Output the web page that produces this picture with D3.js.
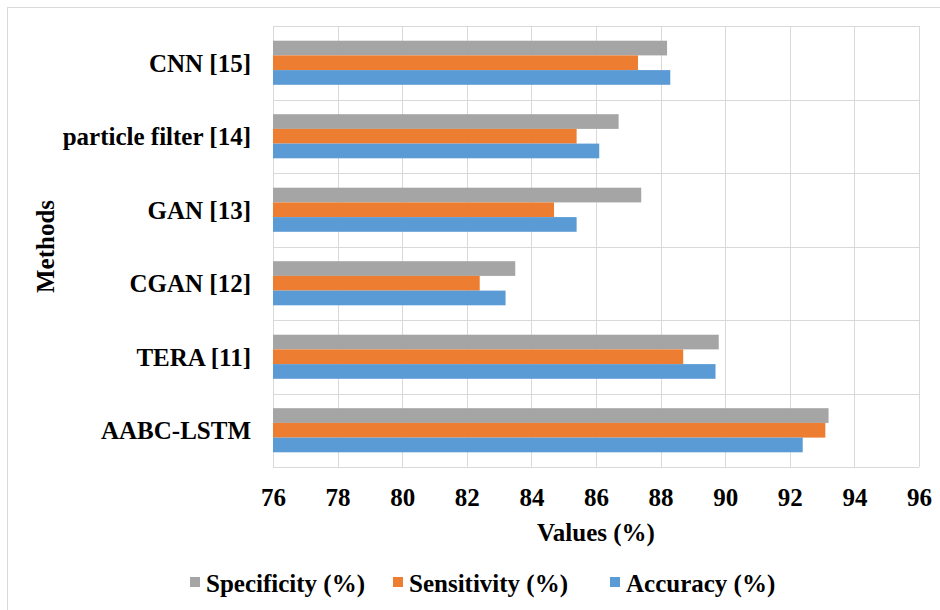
<!DOCTYPE html>
<html>
<head>
<meta charset="utf-8">
<script src="https://cdn.jsdelivr.net/npm/d3@7"></script>
<style>
  html, body { margin: 0; padding: 0; background: #fff; }
  svg { display: block; }
  svg text { font-family: 'Liberation Serif', 'Times New Roman', Times, serif; font-weight: bold; fill: #000; }
</style>
</head>
<body>
<svg id="chart" width="940" height="610"></svg>
<script>
// Methods listed top to bottom
const methods = ["CNN [15]", "particle filter [14]", "GAN [13]", "CGAN [12]", "TERA [11]", "AABC-LSTM"];
const seriesNames = ["Specificity (%)", "Sensitivity (%)", "Accuracy (%)"];
const specificity = [88.2, 86.7, 87.4, 83.5, 89.8, 93.2];
const sensitivity = [87.3, 85.4, 84.7, 82.4, 88.7, 93.1];
const accuracy    = [88.3, 86.1, 85.4, 83.2, 89.7, 92.4];
const xTicks = [76, 78, 80, 82, 84, 86, 88, 90, 92, 94, 96];
const colors = ["#A5A5A5", "#ED7D31", "#5B9BD5"];

const series = [specificity, sensitivity, accuracy];
const svg = d3.select("#chart");
const FONT = "'Liberation Serif', 'Times New Roman', Times, serif";
const FS = "25px";

// outer chart frame
svg.append("rect")
  .attr("x", 7.5).attr("y", 7.5).attr("width", 960).attr("height", 640)
  .attr("fill", "none").attr("stroke", "#d9d9d9").attr("stroke-width", 1);

const plot = { left: 273, right: 919, top: 26, bottom: 467 };

const x = d3.scaleLinear().domain([76, 96]).range([plot.left, plot.right]);
const y = d3.scaleBand().domain(methods).range([plot.top, plot.bottom]);
const inner = d3.scaleBand().domain(d3.range(3))
  .range([0, y.bandwidth()]).paddingOuter(1.0).paddingInner(0);

const g = svg.append("g");

// vertical gridlines
g.append("g").selectAll("line").data(xTicks).join("line")
  .attr("x1", d => Math.round(x(d)) + 0.5).attr("x2", d => Math.round(x(d)) + 0.5)
  .attr("y1", plot.top).attr("y2", plot.bottom)
  .attr("stroke", "#d9d9d9").attr("stroke-width", 1);

// horizontal gridlines at category boundaries
const bounds = methods.map(m => y(m)).concat([plot.bottom]);
g.append("g").selectAll("line").data(bounds).join("line")
  .attr("x1", plot.left).attr("x2", plot.right)
  .attr("y1", d => Math.round(d) + 0.5).attr("y2", d => Math.round(d) + 0.5)
  .attr("stroke", "#d9d9d9").attr("stroke-width", 1);

// bars
series.forEach((vals, si) => {
  g.append("g").selectAll("rect").data(vals).join("rect")
    .attr("x", x(76))
    .attr("y", (d, i) => y(methods[i]) + inner(si))
    .attr("width", d => x(d) - x(76))
    .attr("height", inner.bandwidth())
    .attr("fill", colors[si]);
});

// x axis tick labels
const xAxis = d3.axisBottom(x).tickValues(xTicks).tickSize(0).tickPadding(0).tickFormat(d3.format("d"));
const xa = svg.append("g").attr("transform", `translate(0, 506)`).call(xAxis)
  .attr("font-family", FONT).attr("font-size", FS);
xa.select(".domain").remove();
xa.selectAll("text").attr("dy", 0).attr("y", 0)
  .style("font-family", FONT).style("font-weight", "bold")
  .style("font-size", FS).attr("fill", "#000");

// y axis category labels
const yAxis = d3.axisLeft(y).tickSize(0).tickPadding(0);
const ya = svg.append("g").attr("transform", `translate(251, 0)`).call(yAxis)
  .attr("font-family", FONT).attr("font-size", FS);
ya.select(".domain").remove();
ya.selectAll("text").attr("dy", "0.35em")
  .style("font-family", FONT).style("font-weight", "bold")
  .style("font-size", FS).attr("fill", "#000");

// axis titles
svg.append("text")
  .attr("x", (plot.left + plot.right) / 2).attr("y", 541)
  .attr("text-anchor", "middle").style("font-size", FS)
  .text("Values (%)");

svg.append("text")
  .attr("transform", `translate(54, ${(plot.top + plot.bottom) / 2}) rotate(-90)`)
  .attr("text-anchor", "middle").style("font-size", FS)
  .text("Methods");

// legend
const legendItems = [
  { x: 190, name: seriesNames[0], color: colors[0] },
  { x: 393, name: seriesNames[1], color: colors[1] },
  { x: 610, name: seriesNames[2], color: colors[2] }
];
const lg = svg.append("g");
legendItems.forEach(it => {
  lg.append("rect").attr("x", it.x).attr("y", 577).attr("width", 10).attr("height", 10).attr("fill", it.color);
  lg.append("text").attr("x", it.x + 16).attr("y", 592).style("font-size", FS).text(it.name);
});
</script>
</body>
</html>
